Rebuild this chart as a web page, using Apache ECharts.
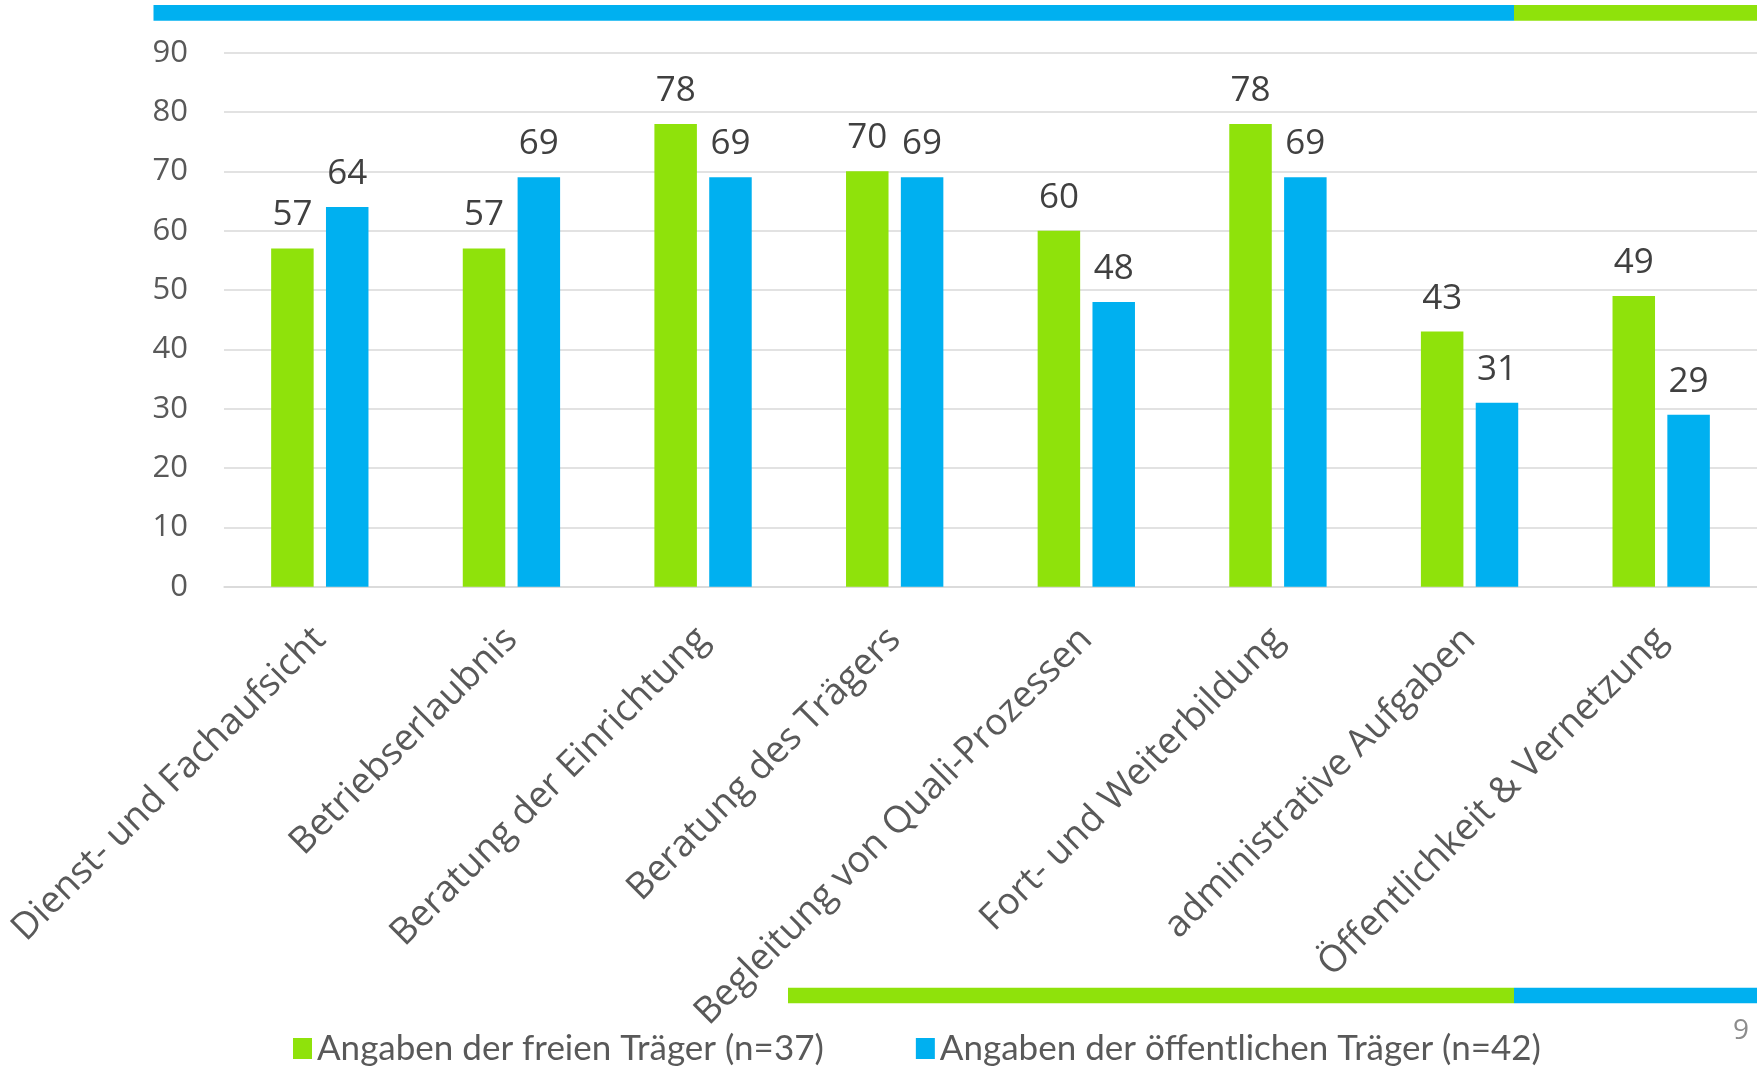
<!DOCTYPE html>
<html>
<head>
<meta charset="utf-8">
<script src="https://cdn.jsdelivr.net/npm/echarts@6/dist/echarts.min.js"></script>
<style>
html,body{margin:0;padding:0;background:#fff;}
#chart{width:1757px;height:1067px;}
</style>
</head>
<body>
<div id="chart"></div>
<script>
const categories = [
  'Dienst- und Fachaufsicht',
  'Betriebserlaubnis',
  'Beratung der Einrichtung',
  'Beratung des Trägers',
  'Begleitung von Quali-Prozessen',
  'Fort- und Weiterbildung',
  'administrative Aufgaben',
  'Öffentlichkeit & Vernetzung'
];
const seriesNames = ['Angaben der freien Träger (n=37)', 'Angaben der öffentlichen Träger (n=42)'];
const freieTraeger = [57, 57, 78, 70, 60, 78, 43, 49];
const oeffentlicheTraeger = [64, 69, 69, 69, 48, 69, 31, 29];
const yTicks = { min: 0, max: 90, interval: 10 };
const pageNumber = '9';

const GREEN = '#8fe20b';
const BLUE = '#00b0f0';
const W = 1757, H = 1067;

const chart = echarts.init(document.getElementById('chart'), null, { renderer: 'canvas' });

const labelStyle = {
  show: true,
  position: 'top',
  distance: 15.5,
  color: '#404040',
  fontSize: 35,
  fontFamily: 'Open Sans'
};

chart.setOption({
  animation: false,
  backgroundColor: '#ffffff',
  textStyle: { fontFamily: 'Open Sans' },
  grid: {
    left: 224,
    right: 0,
    top: 52.7,
    bottom: H - 586.7,
    containLabel: false,
    outerBoundsMode: 'none'
  },
  legend: {
    data: seriesNames,
    left: 288,
    top: 1026,
    icon: 'rect',
    itemWidth: 19,
    itemHeight: 21,
    itemGap: 92,
    textStyle: { fontSize: 35, color: '#595959', fontFamily: 'Lato', padding: [0, 0, 0, 0] }
  },
  xAxis: {
    type: 'category',
    data: categories,
    axisLine: { show: true, lineStyle: { color: '#d9d9d9', width: 1.5 } },
    axisTick: { show: false },
    axisLabel: {
      interval: 0,
      rotate: 45,
      margin: 47,
      fontSize: 37,
      color: '#595959',
      fontFamily: 'Open Sans'
    }
  },
  yAxis: {
    type: 'value',
    min: yTicks.min,
    max: yTicks.max,
    interval: yTicks.interval,
    axisLine: { show: false },
    axisTick: { show: false },
    splitLine: { lineStyle: { color: '#d9d9d9', width: 1.5 } },
    axisLabel: { margin: 36, fontSize: 31, color: '#595959', fontFamily: 'Open Sans' }
  },
  series: [
    {
      name: seriesNames[0],
      type: 'bar',
      data: freieTraeger,
      barWidth: 42.5,
      barGap: '29%',
      itemStyle: { color: GREEN },
      label: labelStyle
    },
    {
      name: seriesNames[1],
      type: 'bar',
      data: oeffentlicheTraeger,
      barWidth: 42.5,
      itemStyle: { color: BLUE },
      label: labelStyle
    }
  ],
  graphic: [
    { type: 'rect', silent: true, shape: { x: 153.5, y: 5, width: 1514 - 153.5, height: 15.7 }, style: { fill: BLUE } },
    { type: 'rect', silent: true, shape: { x: 1514, y: 5, width: W - 1514, height: 15.7 }, style: { fill: GREEN } },
    { type: 'rect', silent: true, shape: { x: 788, y: 987.7, width: 1514 - 788, height: 15.6 }, style: { fill: GREEN } },
    { type: 'rect', silent: true, shape: { x: 1514, y: 987.7, width: W - 1514, height: 15.6 }, style: { fill: BLUE } },
    { type: 'text', silent: true, left: 1733, top: 1017, style: { text: pageNumber, fill: '#8c8c8c', fontSize: 28, fontFamily: 'Open Sans' } }
  ]
});
</script>
</body>
</html>
